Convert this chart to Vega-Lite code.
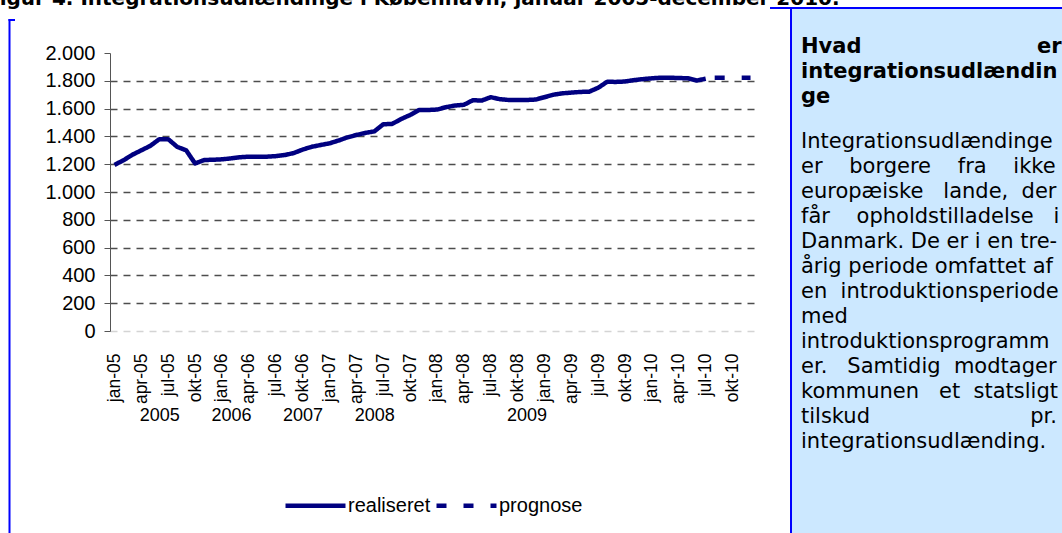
{
  "$schema": "https://vega.github.io/schema/vega-lite/v6.json",
  "width": 645,
  "height": 278,
  "autosize": {"type": "none"},
  "padding": {"left": 110, "top": 53, "right": 307, "bottom": 202},
  "background": "white",
  "config": {
    "view": {"stroke": null},
    "axis": {"labelFont": "Liberation Sans", "labelColor": "black"}
  },
  "datasets": {
    "tal": [
      {"maaned": "jan-05", "antal": 1195, "serie": "realiseret"},
      {"maaned": "feb-05", "antal": 1228, "serie": "realiseret"},
      {"maaned": "mar-05", "antal": 1268, "serie": "realiseret"},
      {"maaned": "apr-05", "antal": 1300, "serie": "realiseret"},
      {"maaned": "maj-05", "antal": 1332, "serie": "realiseret"},
      {"maaned": "jun-05", "antal": 1380, "serie": "realiseret"},
      {"maaned": "jul-05", "antal": 1380, "serie": "realiseret"},
      {"maaned": "aug-05", "antal": 1325, "serie": "realiseret"},
      {"maaned": "sep-05", "antal": 1300, "serie": "realiseret"},
      {"maaned": "okt-05", "antal": 1205, "serie": "realiseret"},
      {"maaned": "nov-05", "antal": 1230, "serie": "realiseret"},
      {"maaned": "dec-05", "antal": 1232, "serie": "realiseret"},
      {"maaned": "jan-06", "antal": 1235, "serie": "realiseret"},
      {"maaned": "feb-06", "antal": 1242, "serie": "realiseret"},
      {"maaned": "mar-06", "antal": 1250, "serie": "realiseret"},
      {"maaned": "apr-06", "antal": 1254, "serie": "realiseret"},
      {"maaned": "maj-06", "antal": 1254, "serie": "realiseret"},
      {"maaned": "jun-06", "antal": 1254, "serie": "realiseret"},
      {"maaned": "jul-06", "antal": 1258, "serie": "realiseret"},
      {"maaned": "aug-06", "antal": 1266, "serie": "realiseret"},
      {"maaned": "sep-06", "antal": 1280, "serie": "realiseret"},
      {"maaned": "okt-06", "antal": 1305, "serie": "realiseret"},
      {"maaned": "nov-06", "antal": 1325, "serie": "realiseret"},
      {"maaned": "dec-06", "antal": 1338, "serie": "realiseret"},
      {"maaned": "jan-07", "antal": 1350, "serie": "realiseret"},
      {"maaned": "feb-07", "antal": 1370, "serie": "realiseret"},
      {"maaned": "mar-07", "antal": 1393, "serie": "realiseret"},
      {"maaned": "apr-07", "antal": 1410, "serie": "realiseret"},
      {"maaned": "maj-07", "antal": 1425, "serie": "realiseret"},
      {"maaned": "jun-07", "antal": 1436, "serie": "realiseret"},
      {"maaned": "jul-07", "antal": 1487, "serie": "realiseret"},
      {"maaned": "aug-07", "antal": 1490, "serie": "realiseret"},
      {"maaned": "sep-07", "antal": 1525, "serie": "realiseret"},
      {"maaned": "okt-07", "antal": 1554, "serie": "realiseret"},
      {"maaned": "nov-07", "antal": 1590, "serie": "realiseret"},
      {"maaned": "dec-07", "antal": 1590, "serie": "realiseret"},
      {"maaned": "jan-08", "antal": 1593, "serie": "realiseret"},
      {"maaned": "feb-08", "antal": 1610, "serie": "realiseret"},
      {"maaned": "mar-08", "antal": 1622, "serie": "realiseret"},
      {"maaned": "apr-08", "antal": 1627, "serie": "realiseret"},
      {"maaned": "maj-08", "antal": 1660, "serie": "realiseret"},
      {"maaned": "jun-08", "antal": 1658, "serie": "realiseret"},
      {"maaned": "jul-08", "antal": 1682, "serie": "realiseret"},
      {"maaned": "aug-08", "antal": 1668, "serie": "realiseret"},
      {"maaned": "sep-08", "antal": 1662, "serie": "realiseret"},
      {"maaned": "okt-08", "antal": 1662, "serie": "realiseret"},
      {"maaned": "nov-08", "antal": 1662, "serie": "realiseret"},
      {"maaned": "dec-08", "antal": 1665, "serie": "realiseret"},
      {"maaned": "jan-09", "antal": 1682, "serie": "realiseret"},
      {"maaned": "feb-09", "antal": 1700, "serie": "realiseret"},
      {"maaned": "mar-09", "antal": 1710, "serie": "realiseret"},
      {"maaned": "apr-09", "antal": 1715, "serie": "realiseret"},
      {"maaned": "maj-09", "antal": 1720, "serie": "realiseret"},
      {"maaned": "jun-09", "antal": 1722, "serie": "realiseret"},
      {"maaned": "jul-09", "antal": 1750, "serie": "realiseret"},
      {"maaned": "aug-09", "antal": 1793, "serie": "realiseret"},
      {"maaned": "sep-09", "antal": 1792, "serie": "realiseret"},
      {"maaned": "okt-09", "antal": 1795, "serie": "realiseret"},
      {"maaned": "nov-09", "antal": 1805, "serie": "realiseret"},
      {"maaned": "dec-09", "antal": 1812, "serie": "realiseret"},
      {"maaned": "jan-10", "antal": 1818, "serie": "realiseret"},
      {"maaned": "feb-10", "antal": 1822, "serie": "realiseret"},
      {"maaned": "mar-10", "antal": 1822, "serie": "realiseret"},
      {"maaned": "apr-10", "antal": 1820, "serie": "realiseret"},
      {"maaned": "maj-10", "antal": 1818, "serie": "realiseret"},
      {"maaned": "jun-10", "antal": 1802, "serie": "realiseret"},
      {"maaned": "jul-10", "antal": 1815, "serie": "realiseret"},
      {"maaned": "aug-10", "antal": 1822, "serie": "prognose"},
      {"maaned": "sep-10", "antal": 1822, "serie": "prognose"},
      {"maaned": "okt-10", "antal": 1822, "serie": "prognose"},
      {"maaned": "nov-10", "antal": 1822, "serie": "prognose"},
      {"maaned": "dec-10", "antal": 1822, "serie": "prognose"}
    ],
    "overskrift": [
      {"linje": 0, "tekst": "Hvad\u00a0\u00a0\u00a0\u00a0\u00a0\u00a0\u00a0\u00a0\u00a0\u00a0\u00a0\u00a0\u00a0\u00a0\u00a0\u00a0\u00a0\u00a0\u00a0\u00a0\u00a0\u00a0\u00a0\u00a0er"},
      {"linje": 1, "tekst": "integrationsudlændin"},
      {"linje": 2, "tekst": "ge"}
    ],
    "broedtekst": [
      {"linje": 4, "tekst": "Integrationsudlændinge"},
      {"linje": 5, "tekst": "er\u00a0\u00a0\u00a0\u00a0borgere\u00a0\u00a0\u00a0\u00a0fra\u00a0\u00a0\u00a0\u00a0ikke"},
      {"linje": 6, "tekst": "europæiske\u00a0\u00a0\u00a0lande,\u00a0\u00a0der"},
      {"linje": 7, "tekst": "får\u00a0\u00a0\u00a0\u00a0opholdstilladelse\u00a0\u00a0\u00a0i"},
      {"linje": 8, "tekst": "Danmark. De er i en tre-"},
      {"linje": 9, "tekst": "årig periode omfattet af"},
      {"linje": 10, "tekst": "en\u00a0\u00a0introduktionsperiode"},
      {"linje": 11, "tekst": "med"},
      {"linje": 12, "tekst": "introduktionsprogramm"},
      {"linje": 13, "tekst": "er.\u00a0\u00a0\u00a0Samtidig\u00a0\u00a0modtager"},
      {"linje": 14, "tekst": "kommunen\u00a0\u00a0\u00a0et\u00a0\u00a0statsligt"},
      {"linje": 15, "tekst": "tilskud\u00a0\u00a0\u00a0\u00a0\u00a0\u00a0\u00a0\u00a0\u00a0\u00a0\u00a0\u00a0\u00a0\u00a0\u00a0\u00a0\u00a0\u00a0\u00a0\u00a0\u00a0\u00a0\u00a0\u00a0pr."},
      {"linje": 16, "tekst": "integrationsudlænding."}
    ],
    "figurtitel": [
      {"tekst": "Figur 4. Integrationsudlændinge i København, januar 2005-december 2010."}
    ]
  },
  "layer": [
    {
      "data": {"values": [{}]},
      "mark": {"type": "rect", "fill": "#CCE8FF"},
      "encoding": {"x": {"value": 681}, "x2": {"value": 960}, "y": {"value": -45}, "y2": {"value": 490}}
    },
    {
      "data": {"values": [{}]},
      "mark": {"type": "rule", "color": "#0000FF", "strokeWidth": 2},
      "encoding": {"x": {"value": 681}, "y": {"value": -46}, "y2": {"value": 490}}
    },
    {
      "data": {"values": [{}]},
      "mark": {"type": "rule", "color": "#0000FF", "strokeWidth": 2},
      "encoding": {"x": {"value": 660}, "x2": {"value": 960}, "y": {"value": -45}}
    },
    {
      "data": {"values": [{}]},
      "mark": {"type": "rule", "color": "#0000FF", "strokeWidth": 2},
      "encoding": {"x": {"value": -100.5}, "y": {"value": -34}, "y2": {"value": 490}}
    },
    {
      "data": {"values": [{}]},
      "mark": {"type": "rule", "color": "#0000FF", "strokeWidth": 2},
      "encoding": {"x": {"value": -101.5}, "x2": {"value": -95}, "y": {"value": -33}}
    },
    {
      "data": {"name": "figurtitel"},
      "mark": {"type": "text", "align": "left", "baseline": "alphabetic", "font": "DejaVu Sans", "fontWeight": "bold", "fontSize": 20, "color": "black"},
      "encoding": {
        "x": {"value": -124},
        "y": {"value": -48.5},
        "text": {"field": "tekst"}
      }
    },
    {
      "data": {"name": "overskrift"},
      "mark": {"type": "text", "align": "left", "baseline": "middle", "font": "DejaVu Sans", "fontWeight": "bold", "fontSize": 21, "color": "black"},
      "encoding": {
        "x": {"value": 691},
        "y": {"field": "linje", "type": "quantitative", "scale": {"domain": [0.252, 11.372], "reverse": true, "nice": false, "zero": false}, "axis": null},
        "text": {"field": "tekst"}
      }
    },
    {
      "data": {"name": "broedtekst"},
      "mark": {"type": "text", "align": "left", "baseline": "middle", "font": "DejaVu Sans", "fontSize": 21, "color": "black"},
      "encoding": {
        "x": {"value": 691},
        "y": {"field": "linje", "type": "quantitative", "scale": {"domain": [0.452, 11.572], "reverse": true, "nice": false, "zero": false}, "axis": null},
        "text": {"field": "tekst"}
      }
    },
    {
      "data": {"name": "tal"},
      "mark": {"type": "point", "opacity": 0},
      "encoding": {
        "x": {
          "field": "maaned", "type": "ordinal", "sort": null,
          "scale": {"type": "point", "padding": 0.5},
          "axis": {
            "orient": "bottom",
            "values": ["jun-05", "feb-06", "okt-06", "jun-07", "nov-08"],
            "labelExpr": "datum.value == 'jun-05' ? '2005' : datum.value == 'feb-06' ? '2006' : datum.value == 'okt-06' ? '2007' : datum.value == 'jun-07' ? '2008' : '2009'",
            "labelAngle": 0, "labelAlign": "center", "labelBaseline": "middle",
            "labelPadding": 84, "labelDx": 3, "labelFontSize": 18,
            "ticks": false, "domain": false, "grid": false, "title": null
          }
        }
      }
    },
    {
      "data": {"name": "tal"},
      "mark": {"type": "line", "color": "#000080", "strokeWidth": 4.5, "strokeJoin": "round", "strokeCap": "butt"},
      "encoding": {
        "x": {
          "field": "maaned", "type": "ordinal", "sort": null,
          "scale": {"type": "point", "padding": 0.5},
          "axis": {
            "orient": "bottom",
            "values": ["jan-05", "apr-05", "jul-05", "okt-05", "jan-06", "apr-06", "jul-06", "okt-06", "jan-07", "apr-07", "jul-07", "okt-07", "jan-08", "apr-08", "jul-08", "okt-08", "jan-09", "apr-09", "jul-09", "okt-09", "jan-10", "apr-10", "jul-10", "okt-10"],
            "labelAngle": -90, "labelAlign": "right", "labelBaseline": "middle",
            "labelPadding": 22, "labelFontSize": 17.5,
            "ticks": false, "domain": false, "grid": false, "title": null
          }
        },
        "y": {
          "field": "antal", "type": "quantitative",
          "scale": {"domain": [0, 2000], "nice": false},
          "axis": {
            "values": [0, 200, 400, 600, 800, 1000, 1200, 1400, 1600, 1800, 2000],
            "labelExpr": "replace(format(datum.value, ','), ',', '.')",
            "title": null,
            "grid": true,
            "gridDash": [7, 6],
            "gridWidth": 1.3,
            "gridColor": {"condition": {"test": "datum.value === 0", "value": "#d4d4d4"}, "value": "#4d4d4d"},
            "gridOpacity": {"condition": {"test": "datum.value === 2000", "value": 0}, "value": 1},
            "domainColor": "#555555",
            "tickColor": "#555555",
            "tickSize": 6,
            "labelPadding": 9,
            "labelFontSize": 20
          }
        },
        "strokeDash": {
          "field": "serie", "type": "nominal",
          "scale": {"domain": ["realiseret", "prognose"], "range": [[1, 0], [10, 17]]},
          "legend": {
            "orient": "none", "legendX": 173, "legendY": 420,
            "direction": "horizontal", "title": null,
            "symbolType": "stroke", "symbolSize": 3600, "symbolStrokeWidth": 4.5,
            "symbolStrokeColor": "#000080",
            "labelFont": "Liberation Sans", "labelFontSize": 20, "labelColor": "black",
            "columnPadding": -4, "labelOffset": 0
          }
        }
      }
    }
  ],
  "resolve": {"scale": {"y": "independent"}, "axis": {"x": "independent"}}
}
